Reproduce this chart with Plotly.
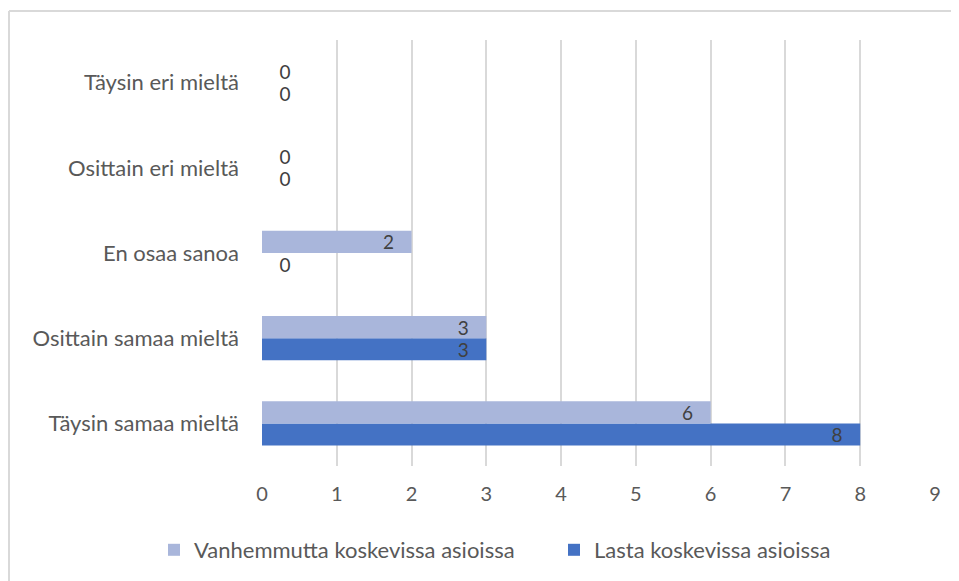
import plotly.graph_objects as go

categories = ["Täysin samaa mieltä", "Osittain samaa mieltä", "En osaa sanoa",
              "Osittain eri mieltä", "Täysin eri mieltä"]
vanhemmutta = [6, 3, 2, 0, 0]
lasta = [8, 3, 0, 0, 0]
series_names = ["Vanhemmutta koskevissa asioissa", "Lasta koskevissa asioissa"]
x_ticks = [0, 1, 2, 3, 4, 5, 6, 7, 8, 9]

FONT = "Lato, 'Open Sans', sans-serif"
TXT = "#404040"
TICK = "#595959"
NB = "\u00a0"

def pos(vals):
    return ["inside" if v > 0 else "outside" for v in vals]

def labels(vals):
    return [str(v) + NB * 3 if v > 0 else NB * 3 + str(v) for v in vals]

fig = go.Figure()
fig.add_trace(go.Bar(
    y=categories, x=lasta, orientation="h", name=series_names[1],
    marker=dict(color="#4472C4", line=dict(width=0)),
    text=labels(lasta), textposition=pos(lasta), textangle=0,
    insidetextanchor="end", textfont=dict(color=TXT, size=19, family=FONT),
    cliponaxis=False, legend="legend2",
))
fig.add_trace(go.Bar(
    y=categories, x=vanhemmutta, orientation="h", name=series_names[0],
    marker=dict(color="#A9B6DB", line=dict(width=0)),
    text=labels(vanhemmutta), textposition=pos(vanhemmutta), textangle=0,
    insidetextanchor="end", textfont=dict(color=TXT, size=19, family=FONT),
    cliponaxis=False, legend="legend",
))

# page has an 8px body margin, so the figure starts at (8, 8)
W, H = 951, 573
L, R, T, B = 254, 24, 32, 115
pw, ph = W - L - R, H - T - B

leg_common = dict(orientation="h", xanchor="left", yref="container",
                  y=(H - 542) / H, yanchor="middle",
                  font=dict(size=22, color=TICK, family=FONT),
                  itemwidth=30, bgcolor="rgba(0,0,0,0)")

fig.update_layout(
    width=W, height=H,
    margin=dict(l=L, r=R, t=T, b=B, autoexpand=False),
    paper_bgcolor="white", plot_bgcolor="white",
    barmode="group", bargap=0.48, bargroupgap=0,
    font=dict(family=FONT, color=TICK, size=20),
    uniformtext=dict(mode="show", minsize=19),
    xaxis=dict(range=[0, 9], tickvals=x_ticks, showgrid=True, gridcolor="#d9d9d9",
               gridwidth=2, zeroline=False, showline=False, ticks="",
               tickfont=dict(size=20, color=TICK, family=FONT), ticklabelstandoff=14),
    yaxis=dict(showgrid=False, zeroline=False, showline=False, ticks="",
               tickfont=dict(size=22, color=TICK, family=FONT), ticklabelstandoff=22),
    legend=dict(x=(154 - 262) / pw, **leg_common),
    legend2=dict(x=(554 - 262) / pw, **leg_common),
    showlegend=True,
)

# chart border (left and top edges)
x_left = (1 - L) / pw
y_top = (ph + T - 3) / ph
fig.add_shape(type="line", xref="paper", yref="paper", x0=x_left, x1=x_left,
              y0=-B / ph, y1=y_top, line=dict(color="#d9d9d9", width=2))
fig.add_shape(type="line", xref="paper", yref="paper", x0=x_left, x1=(W - L) / pw,
              y0=y_top, y1=y_top, line=dict(color="#d9d9d9", width=2))

fig.write_html("out.html")
